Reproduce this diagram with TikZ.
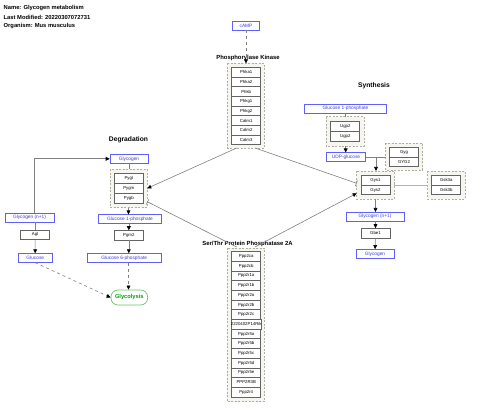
\documentclass[tikz,border=0pt]{standalone}
\usepackage{fontspec}
\setmainfont{Liberation Sans}
\usetikzlibrary{arrows.meta}
\definecolor{metab}{RGB}{95,95,250}
\definecolor{metabtxt}{RGB}{60,60,225}
\definecolor{genebd}{RGB}{100,100,100}
\definecolor{grpbd}{RGB}{175,175,160}
\definecolor{grpfill}{RGB}{246,245,239}
\definecolor{lnc}{RGB}{128,128,128}
\definecolor{glyc}{RGB}{0,160,0}
\begin{document}
\begin{tikzpicture}[x=1pt,y=-1pt,
  gene/.style={draw=genebd,line width=0.8pt,fill=white,minimum width=29pt,minimum height=9.7pt,inner sep=0pt,font=\fontsize{4.3}{5}\selectfont},
  metabo/.style={draw=metab,line width=0.6pt,fill=white,text=metabtxt,minimum height=8.8pt,inner sep=0pt,font=\fontsize{4.8}{5.5}\selectfont},
  grp/.style={draw=grpbd,dash pattern=on 2pt off 1.5pt,line width=0.9pt,fill=grpfill},
  glabel/.style={font=\fontsize{5.9}{7}\selectfont\bfseries,inner sep=0pt},
  slabel/.style={font=\fontsize{6.7}{8}\selectfont\bfseries,inner sep=0pt},
  tlabel/.style={font=\fontsize{5.8}{7}\selectfont\bfseries,inner sep=0pt,anchor=west},
  conn/.style={draw=lnc,line width=0.6pt},
  arr/.style={conn,-{Triangle[width=3.8pt,length=4pt,black]}},
  tee/.style={conn,-{Bar[width=6pt,line width=0.6pt]}},
  darr/.style={arr,dashed}]
\useasboundingbox (0,0) rectangle (480,417);
% title
\node[tlabel] (t1) at (3.5,8) {Name: Glycogen metabolism};
\node[tlabel] (t2) at (3.5,17) {Last Modified: 20220307072731};
\node[tlabel] (t3) at (3.5,26) {Organism: Mus musculus};
% groups
\draw[grp] (227.3,63.3) rectangle (264.3,148);
\coordinate (phkN) at (246,63.3);
\coordinate (phkA) at (236.7,148);
\coordinate (phkB) at (255,148);
\draw[grp] (227.3,248) rectangle (264.3,401.5);
\coordinate (ppA) at (236.7,247);
\coordinate (ppB) at (255,247);
\draw[grp] (326,116.7) rectangle (364,146);
\draw[grp] (385.5,143.5) rectangle (422.5,170);
\draw[grp] (356.7,171) rectangle (394.3,199.3);
\draw[grp] (427.7,171) rectangle (465,199.3);
\draw[grp] (110,169.3) rectangle (147.3,207.7);
% labels
\node[glabel] (phklab) at (248,58) {Phosphorylase Kinase};
\node[glabel] (pplab) at (247.5,243.5) {Ser/Thr Protein Phosphatase 2A};
\node[slabel] (synlab) at (374,86) {Synthesis};
\node[slabel] (deglab) at (128.5,140) {Degradation};
% phosphorylase kinase genes
\foreach \g [count=\i from 0] in {Phka1,Phka2,Phkb,Phkg1,Phkg2,Calm1,Calm2,Calm3}
  \node[gene] (phk\i) at (246.2,72.15+\i*9.7) {\g};
% PP2A genes
\foreach \g [count=\i from 0] in {Ppp2ca,Ppp2cb,Ppp2r1a,Ppp2r1b,Ppp2r2a,Ppp2r2b,Ppp2r2c,2220402P14Rik,Ppp2r5a,Ppp2r5b,Ppp2r5c,Ppp2r5d,Ppp2r5e,PPP2R3B,Ppp2r4}
  \node[gene] (pp\i) at (246.2,256.4+\i*9.7) {\g};
% synthesis
\node[metabo,minimum width=27pt] (camp) at (246,25.5) {cAMP};
\node[metabo,minimum width=82pt] (g1ps) at (345.5,108.5) {Glucose 1-phosphate};
\node[gene] (ugp1) at (345.3,126.5) {Ugp2};
\node[gene] (ugp2) at (345.3,136.2) {Ugp2};
\node[metabo,minimum width=38.6pt] (udp) at (346,157.2) {UDP-glucose};
\node[gene] (gyg) at (404,152.2) {Gyg};
\node[gene] (gyg2) at (404,161.9) {GYG2};
\node[gene] (gys1) at (375.5,180.3) {Gys1};
\node[gene] (gys2) at (375.5,190) {Gys2};
\node[gene] (gsk3a) at (446.3,180.3) {Gsk3a};
\node[gene] (gsk3b) at (446.3,190) {Gsk3b};
\node[metabo,minimum width=58pt] (gnps) at (375,216.7) {Glycogen (n+1)};
\node[gene,minimum height=9.3pt] (gbe1) at (375.5,233.3) {Gbe1};
\node[metabo,minimum width=38pt] (glys) at (375,253.8) {Glycogen};
% degradation
\node[metabo,minimum width=38pt] (glyd) at (129,158.8) {Glycogen};
\node[gene] (pygl) at (128.8,178.7) {Pygl};
\node[gene] (pygm) at (128.8,188.4) {Pygm};
\node[gene] (pygb) at (128.8,198.1) {Pygb};
\node[metabo,minimum width=63.4pt] (g1pd) at (130,219.2) {Glucose 1-phosphate};
\node[gene,minimum height=9.3pt] (pgm2) at (128.8,235.3) {Pgm2};
\node[metabo,minimum width=73.7pt] (g6p) at (124.2,258) {Glucose 6-phosphate};
\node[draw=glyc!60,line width=0.7pt,rounded corners=7pt,minimum width=36.7pt,minimum height=15pt,inner sep=0pt,text=glyc,font=\fontsize{5.7}{7}\selectfont\bfseries] (glycol) at (129.3,297.5) {Glycolysis};
\node[metabo,minimum width=49pt] (gnpd) at (29.5,217.5) {Glycogen (n+1)};
\node[gene,minimum height=9.3pt] (agl) at (35,234.7) {Agl};
\node[metabo,minimum width=34pt] (glc) at (35.3,258) {Glucose};
% connectors
\draw[darr] (camp) -- (phkN);
\draw[conn] (g1ps) -- (345.5,116.7);
\draw[arr] (345.7,146) -- (udp.north -| 345.7,0);
\draw[conn] (udp.east) -- (385.5,157.2);
\coordinate (udpj) at (376,157.2);
\draw[arr] (udpj) -- (376,171);
\draw[tee,draw=lnc!60] (427.7,185) -- (394.3,185);
\draw[arr] (375.5,199.3) -- (gnps.north -| 375.5,0);
\draw[arr] (gnps.south -| 375.5,0) -- (gbe1.north);
\draw[arr] (gbe1) -- (glys);
\draw[arr] (34.3,213) |- (glyd.west);
\draw[conn] (glyd) -- (129,169.3);
\draw[arr] (128.5,207.7) -- (g1pd.north -| 128.5,0);
\draw[arr] (g1pd.south -| 128.8,0) -- (pgm2.north);
\draw[arr] (pgm2) -- (g6p.north -| 128.8,0);
\draw[darr] (g6p.south -| 128.5,0) -- (glycol.north -| 128.5,0);
\draw[conn] (gnpd.south -| 35,0) -- (agl.north);
\draw[arr] (agl) -- (glc);
\draw[darr] (glc.south) -- (glycol.west);
\draw[arr] (phkA) -- (147.3,188.3);
\draw[tee] (phkB) -- (356.7,183.3);
\draw[tee] (ppA) -- (147.3,201.7);
\draw[arr] (ppB) -- (356.7,193.3);
\end{tikzpicture}
\end{document}
